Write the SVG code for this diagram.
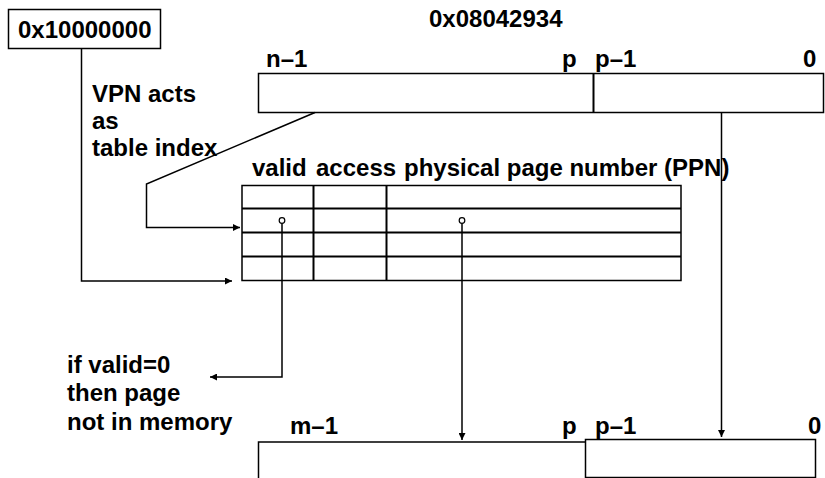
<svg xmlns="http://www.w3.org/2000/svg" width="825" height="478" viewBox="0 0 825 478">
<defs>
<style>
text{font-family:"Liberation Sans",Arial,Helvetica,sans-serif;font-weight:bold;font-size:24px;fill:#000}
.box{fill:#fff;stroke:#000;stroke-width:1.5}
.grid{fill:none;stroke:#000;stroke-width:2}
.conn{fill:none;stroke:#000;stroke-width:1.5}
.dot{fill:#fff;stroke:#000;stroke-width:1.2}
</style>
<marker id="arr" viewBox="0 0 10 10" refX="10" refY="5" markerWidth="9" markerHeight="7" markerUnits="userSpaceOnUse" orient="auto">
<path d="M0,0 L10,5 L0,10 z" fill="#000"/>
</marker>
</defs>
<rect width="825" height="478" fill="#fff"/>

<g id="ptbr">
<rect class="box" x="8.5" y="9.5" width="152" height="39"/>
<text x="18" y="38">0x10000000</text>
</g>

<g id="va">
<text x="429" y="27">0x08042934</text>
<rect class="box" x="258.5" y="73.5" width="565" height="39"/>
<line x1="593.5" y1="73.5" x2="593.5" y2="112.5" stroke="#000" stroke-width="2"/>
<text x="266" y="67">n–1</text>
<text x="562" y="67">p</text>
<text x="595" y="67">p–1</text>
<text x="803" y="67">0</text>
</g>

<g id="note-vpn">
<text x="92" y="102">VPN acts</text>
<text x="92" y="129">as</text>
<text x="92" y="156">table index</text>
</g>

<g id="table">
<text x="252" y="176">valid</text>
<text x="316" y="176">access</text>
<text x="404" y="176">physical page number (PPN)</text>
<rect class="box" x="242" y="185.5" width="439" height="95"/>
<line class="grid" x1="242" y1="208.5" x2="681" y2="208.5"/>
<line class="grid" x1="242" y1="232.5" x2="681" y2="232.5"/>
<line class="grid" x1="242" y1="256.5" x2="681" y2="256.5"/>
<line class="grid" x1="313.5" y1="185.5" x2="313.5" y2="280.5"/>
<line class="grid" x1="386.5" y1="185.5" x2="386.5" y2="280.5"/>
</g>

<g id="note-valid">
<text x="67" y="373">if valid=0</text>
<text x="67" y="401">then page</text>
<text x="67" y="430">not in memory</text>
</g>

<g id="pa">
<path class="box" d="M258.5,478 V442 H585"/>
<rect class="box" x="585.5" y="439.5" width="230" height="38"/>
<text x="290" y="434">m–1</text>
<text x="562" y="434">p</text>
<text x="595" y="434">p–1</text>
<text x="808" y="434">0</text>
</g>

<g id="connectors">
<polyline class="conn" points="81.5,48.5 81.5,281 232,281" marker-end="url(#arr)"/>
<polyline class="conn" points="315,112.5 146.5,184 146.5,227.5 240,227.5" marker-end="url(#arr)"/>
<polyline class="conn" points="282,223.5 282,377 210,377" marker-end="url(#arr)"/>
<line class="conn" x1="462" y1="223.5" x2="462" y2="440" marker-end="url(#arr)"/>
<line class="conn" x1="721.5" y1="113" x2="721.5" y2="437" marker-end="url(#arr)"/>
<circle class="dot" cx="282" cy="220.5" r="2.8"/>
<circle class="dot" cx="462" cy="220.5" r="2.8"/>
</g>
</svg>
